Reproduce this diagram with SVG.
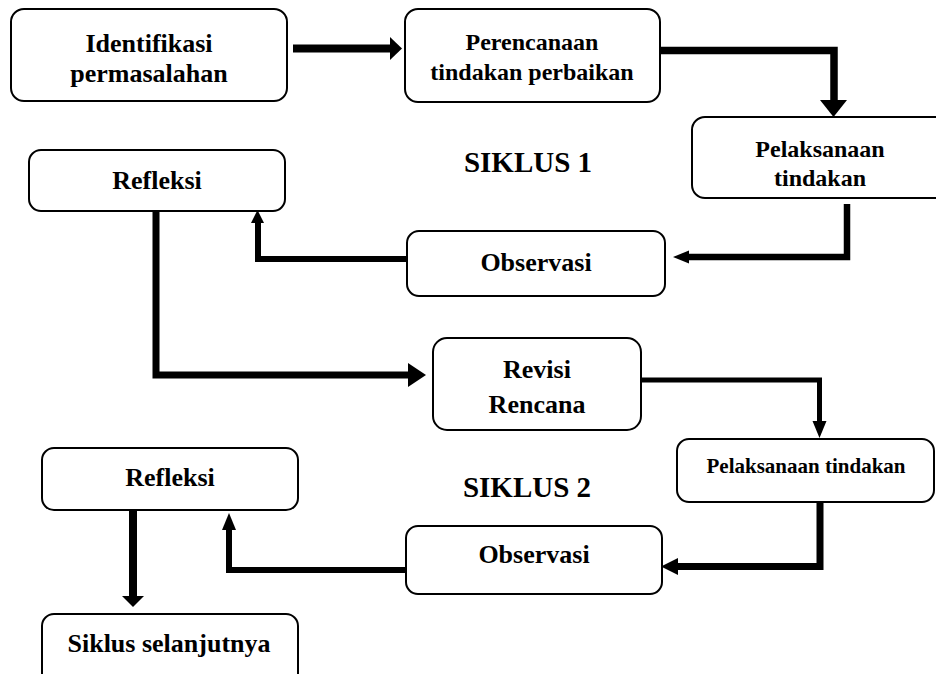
<svg xmlns="http://www.w3.org/2000/svg" width="936" height="674" viewBox="0 0 936 674">
<style>
.box{fill:#fff;stroke:#000;stroke-width:2}
.t{font-family:'Liberation Serif','Times New Roman',Times,serif;font-weight:700;fill:#000;text-anchor:middle}
.ln{fill:none;stroke:#000;stroke-linejoin:miter;stroke-linecap:butt}
.hd{fill:#000}
</style>
<rect width="936" height="674" fill="#fff"/>
<g id="identifikasi"><rect class="box" x="11" y="9" width="276" height="92" rx="13"/><text class="t" x="149" y="52" font-size="26">Identifikasi</text><text class="t" x="149" y="82" font-size="26">permasalahan</text></g>
<g id="perencanaan"><rect class="box" x="405" y="9" width="255" height="93" rx="13"/><text class="t" x="532" y="50" font-size="24">Perencanaan</text><text class="t" x="532" y="80" font-size="24">tindakan perbaikan</text></g>
<g id="pelaksanaan1"><rect class="box" x="692" y="117" width="256" height="81" rx="13"/><text class="t" x="820" y="157" font-size="24">Pelaksanaan</text><text class="t" x="820" y="186" font-size="24">tindakan</text></g>
<g id="siklus1"><text class="t" x="528" y="172" font-size="29">SIKLUS 1</text></g>
<g id="refleksi1"><rect class="box" x="29" y="150" width="256" height="61" rx="12"/><text class="t" x="157" y="189" font-size="26">Refleksi</text></g>
<g id="observasi1"><rect class="box" x="407" y="231" width="258" height="65" rx="12"/><text class="t" x="536" y="271" font-size="26">Observasi</text></g>
<g id="revisi"><rect class="box" x="433" y="338" width="208" height="92" rx="14"/><text class="t" x="537" y="378" font-size="26">Revisi</text><text class="t" x="537" y="413" font-size="26">Rencana</text></g>
<g id="pelaksanaan2"><rect class="box" x="677" y="439" width="257" height="63" rx="12"/><text class="t" x="806" y="473" font-size="21">Pelaksanaan tindakan</text></g>
<g id="siklus2"><text class="t" x="527" y="497" font-size="29">SIKLUS 2</text></g>
<g id="refleksi2"><rect class="box" x="42" y="448" width="256" height="62" rx="12"/><text class="t" x="170" y="486" font-size="26">Refleksi</text></g>
<g id="observasi2"><rect class="box" x="406" y="526" width="256" height="68" rx="12"/><text class="t" x="534" y="563" font-size="26">Observasi</text></g>
<g id="siklus-selanjutnya"><rect class="box" x="42" y="614" width="256" height="80" rx="12"/><text class="t" x="169" y="652" font-size="26">Siklus selanjutnya</text></g>
<g id="connectors">
<path class="ln" stroke-width="8" d="M293,48.5 H391"/><polygon class="hd" points="390,37 402,48.5 390,60"/>
<path class="ln" stroke-width="7.5" d="M660,50.5 H834 V101"/><polygon class="hd" points="820,100 847,100 833.5,117"/>
<path class="ln" stroke-width="6.5" d="M847,204 V257 H688"/><polygon class="hd" points="689,250.5 673,257 689,263.5"/>
<path class="ln" stroke-width="6" d="M407,259 H258 V222"/><polygon class="hd" points="251,223 264,223 257.5,210"/>
<path class="ln" stroke-width="7" d="M156,211 V375 H409"/><polygon class="hd" points="408,363 426,375 408,387"/>
<path class="ln" stroke-width="5" d="M641,380 H819.5 V421"/><polygon class="hd" points="812.5,421 826.5,421 819.5,438"/>
<path class="ln" stroke-width="7" d="M820,502 V566.5 H677"/><polygon class="hd" points="678,558 661,566.5 678,575"/>
<path class="ln" stroke-width="6" d="M405,570 H229 V529"/><polygon class="hd" points="222,530 236,530 229,513"/>
<path class="ln" stroke-width="8" d="M133,510 V597"/><polygon class="hd" points="122,596 144,596 133,607"/>
</g>
</svg>
